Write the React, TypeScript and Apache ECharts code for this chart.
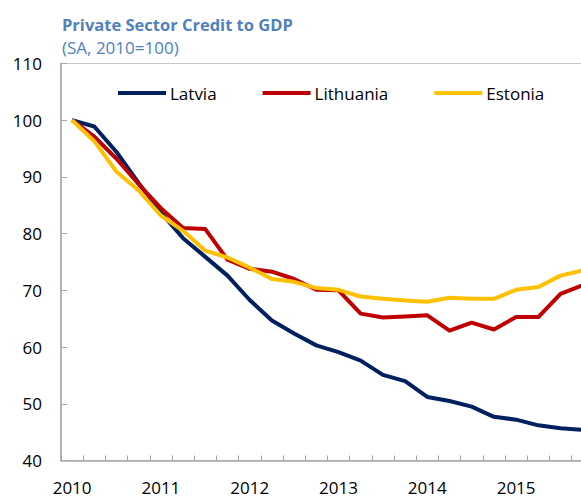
import React, { useEffect, useRef } from "react";
import * as echarts from "echarts";

const years = ["2010", "2011", "2012", "2013", "2014", "2015"];
const quarters = ["Q1", "Q2", "Q3", "Q4"];
const categories: string[] = years.flatMap((y) => quarters.map((q) => `${y}${q}`));

const latvia = [100, 98.9, 94.4, 88.9, 83.7, 79.2, 75.9, 72.6, 68.3, 64.7, 62.4, 60.3, 59.1, 57.6, 55.1, 54.0, 51.2, 50.5, 49.5, 47.7, 47.2, 46.2, 45.7, 45.4];
const lithuania = [100, 97.1, 93.2, 88.7, 84.5, 81.0, 80.8, 75.4, 73.8, 73.3, 72.0, 70.1, 70.0, 65.9, 65.2, 65.4, 65.6, 62.9, 64.3, 63.1, 65.3, 65.3, 69.4, 70.9];
const estonia = [100, 96.3, 90.9, 87.6, 83.2, 80.5, 77.0, 75.8, 74.0, 72.0, 71.5, 70.4, 70.1, 68.9, 68.5, 68.2, 68.0, 68.7, 68.5, 68.5, 70.1, 70.6, 72.6, 73.5];

const seriesNames = ["Latvia", "Lithuania", "Estonia"];
const seriesColors = ["#002060", "#c00000", "#ffc000"];
const seriesData = [latvia, lithuania, estonia];

const titleText = "Private Sector Credit to GDP";
const subtitleText = "(SA, 2010=100)";

export default function App() {
  const ref = useRef<HTMLDivElement>(null);
  useEffect(() => {
    document.body.style.margin = "0";
    if (!ref.current) return;
    const chart = echarts.init(ref.current, undefined, { renderer: "svg" });
    const font = "Open Sans";
    chart.setOption({
      animation: false,
      backgroundColor: "#ffffff",
      textStyle: { fontFamily: font },
      title: {
        text: titleText,
        subtext: subtitleText,
        left: 62,
        top: 16,
        itemGap: 6,
        padding: 0,
        textStyle: { fontFamily: font, fontSize: 16.5, fontWeight: "bold", color: "#4f81bd" },
        subtextStyle: { fontFamily: font, fontSize: 17, color: "#4f81bd" },
      },
      legend: {
        left: 118,
        top: 83,
        itemGap: 46,
        itemWidth: 48,
        itemHeight: 4,
        icon: "rect",
        padding: 0,
        data: seriesNames,
        textStyle: { fontFamily: font, fontSize: 17, color: "#000", lineHeight: 20, padding: [0, 0, 0, -1] },
      },
      grid: {
        left: 61,
        top: 63.5,
        width: 532.8,
        height: 397,
        show: true,
        borderColor: "#c8c8c8",
        borderWidth: 1,
        containLabel: false,
        outerBoundsMode: "none",
      },
      xAxis: {
        type: "category",
        data: categories,
        boundaryGap: true,
        axisLine: { lineStyle: { color: "#a6a6a6", width: 1.5 } },
        axisTick: { show: true, inside: true, length: 5, interval: 0, lineStyle: { color: "#a6a6a6" } },
        axisLabel: {
          interval: 3,
          margin: 18,
          fontSize: 17,
          color: "#000",
          fontFamily: font,
          formatter: (v: string) => v.slice(0, 4),
        },
        splitLine: { show: false },
      },
      yAxis: {
        type: "value",
        min: 40,
        max: 110,
        interval: 10,
        axisLine: { show: true, lineStyle: { color: "#a6a6a6", width: 1.5 } },
        axisTick: { show: true, inside: true, length: 6, lineStyle: { color: "#a6a6a6" } },
        axisLabel: { margin: 19, fontSize: 17, color: "#000", fontFamily: font },
        splitLine: { show: false },
      },
      series: seriesNames.map((name, i) => ({
        name,
        type: "line",
        data: seriesData[i],
        symbol: "none",
        color: seriesColors[i],
        lineStyle: { width: 4, color: seriesColors[i], join: "round" },
      })),
    });
    return () => chart.dispose();
  }, []);
  return <div ref={ref} style={{ width: 581, height: 498 }} />;
}
